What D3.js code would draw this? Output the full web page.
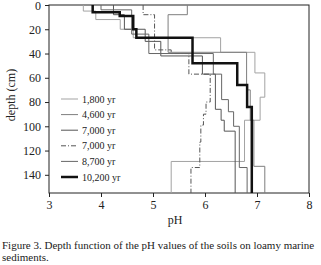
<!DOCTYPE html>
<html>
<head>
<meta charset="utf-8">
<script src="https://cdn.jsdelivr.net/npm/d3@7"></script>
<style>
  body { margin: 0; background: #fff; }
  svg text { font-family: "Liberation Serif", "Times New Roman", "DejaVu Serif", serif !important; fill: #222; }
</style>
</head>
<body>
<svg id="chart" width="321" height="265"></svg>
<script>
// Legend labels (in legend order)
const ages = ["1,800 yr", "4,600 yr", "7,000 yr", "7,000 yr", "8,700 yr", "10,200 yr"];

// Horizon boundaries (cm) and pH of each horizon
const depth1800 = [0, 5, 12, 20, 27, 39, 56, 76, 95, 129, 155];
const ph1800    = [3.66, 3.90, 4.37, 4.62, 6.30, 6.96, 7.15, 7.06, 6.76, 5.35];

const depth4600 = [0, 8, 39, 70, 95, 133, 155];
const ph4600    = [5.66, 5.29, 6.80, 6.87, 6.94, 7.15];

const depth7000a = [0, 8, 20, 30, 42, 57, 86, 95, 104, 155];
const ph7000a    = [4.24, 4.45, 4.85, 5.15, 5.95, 6.20, 6.31, 6.37, 6.58];

const depth7000b = [0, 8, 37, 40, 57, 80, 90, 99, 113, 134, 155];
const ph7000b    = [4.81, 5.03, 5.35, 5.69, 6.10, 6.02, 5.97, 5.92, 5.90, 5.73];

const depth8700 = [0, 4, 24, 40, 57, 78, 88, 100, 134, 155];
const ph8700    = [4.00, 4.59, 4.92, 6.16, 6.32, 6.45, 6.55, 6.66, 6.81];

const depth10200 = [0, 6, 9, 20, 27, 48, 66, 84, 155];
const ph10200    = [3.84, 4.36, 4.62, 4.68, 5.76, 6.62, 6.81, 6.90];

const xTicks = [3, 4, 5, 6, 7, 8];
const yTicks = [0, 20, 40, 60, 80, 100, 120, 140];
const caption = [
  "Figure 3. Depth function of the pH values of the soils on loamy marine",
  "sediments."
];

const series = [
  { label: ages[0], depth: depth1800,  ph: ph1800,  color: "#a3a3a3", width: 1,   dash: null },
  { label: ages[1], depth: depth4600,  ph: ph4600,  color: "#7e7e7e", width: 1,   dash: null },
  { label: ages[2], depth: depth7000a, ph: ph7000a, color: "#555",    width: 1,   dash: null },
  { label: ages[3], depth: depth7000b, ph: ph7000b, color: "#555",    width: 1,   dash: "5,2,1,2" },
  { label: ages[4], depth: depth8700,  ph: ph8700,  color: "#666",    width: 1,   dash: null },
  { label: ages[5], depth: depth10200, ph: ph10200, color: "#111",    width: 2.5, dash: null }
];

const FONT = '"Liberation Serif", "Times New Roman", serif';
const svg = d3.select("#chart").attr("font-family", FONT);
const margin = { left: 49, right: 12, top: 5, bottom: 72 };
const W = 321, H = 265;

const x = d3.scaleLinear().domain([3, 8]).range([margin.left, W - margin.right]);
const y = d3.scaleLinear().domain([0, 155]).range([margin.top, H - margin.bottom]);

// Axes
const gx = svg.append("g")
    .attr("transform", `translate(0,${y(155)})`)
    .call(d3.axisBottom(x).tickValues(xTicks).tickFormat(d3.format("d"))
      .tickSize(4).tickSizeOuter(0).tickPadding(3));
const gy = svg.append("g")
    .attr("transform", `translate(${x(3)},0)`)
    .call(d3.axisLeft(y).tickValues(yTicks).tickFormat(d3.format("d"))
      .tickSize(4).tickSizeOuter(0).tickPadding(4));
[gx, gy].forEach(g => {
  g.attr("font-family", FONT).attr("font-size", 12);
  g.selectAll("text").attr("fill", "#222");
  g.selectAll("line").attr("stroke", "#222");
  g.select(".domain").remove();
});
// keep the top "0" inside the picture
gy.selectAll(".tick text").filter(d => d === 0).attr("y", 1);

// Frame
svg.append("rect")
    .attr("x", x(3)).attr("y", y(0))
    .attr("width", x(8) - x(3)).attr("height", y(155) - y(0))
    .attr("fill", "none").attr("stroke", "#222").attr("stroke-width", 1);

// Profiles as step lines
const line = d3.line().x(d => x(d[0])).y(d => y(d[1]));
function stepPoints(s) {
  const pts = [];
  s.ph.forEach((v, i) => {
    pts.push([v, s.depth[i]]);
    pts.push([v, s.depth[i + 1]]);
  });
  return pts;
}

svg.append("g")
  .selectAll("path")
  .data(series)
  .join("path")
    .attr("d", d => line(stepPoints(d)))
    .attr("fill", "none")
    .attr("stroke", d => d.color)
    .attr("stroke-width", d => d.width)
    .attr("stroke-dasharray", d => d.dash);

// Legend
const legend = svg.append("g")
  .selectAll("g")
  .data(series)
  .join("g")
    .attr("transform", (d, i) => `translate(61,${99 + i * 15.6})`);
legend.append("line")
    .attr("x1", 0).attr("x2", 17)
    .attr("stroke", d => d.color)
    .attr("stroke-width", d => d.width)
    .attr("stroke-dasharray", d => d.dash);
legend.append("text")
    .attr("x", 21).attr("dy", "0.35em")
    .attr("font-size", 10)
    .text(d => d.label);

// Axis titles
svg.append("text")
    .attr("x", 175).attr("y", 224)
    .attr("text-anchor", "middle")
    .attr("font-size", 12)
    .text("pH");
svg.append("text")
    .attr("transform", "translate(15,95) rotate(-90)")
    .attr("text-anchor", "middle")
    .attr("font-size", 12)
    .text("depth (cm)");

// Caption
svg.append("g")
  .selectAll("text")
  .data(caption)
  .join("text")
    .attr("x", 2)
    .attr("y", (d, i) => 249 + i * 12)
    .attr("font-size", 11)
    .text(d => d);
</script>
</body>
</html>
